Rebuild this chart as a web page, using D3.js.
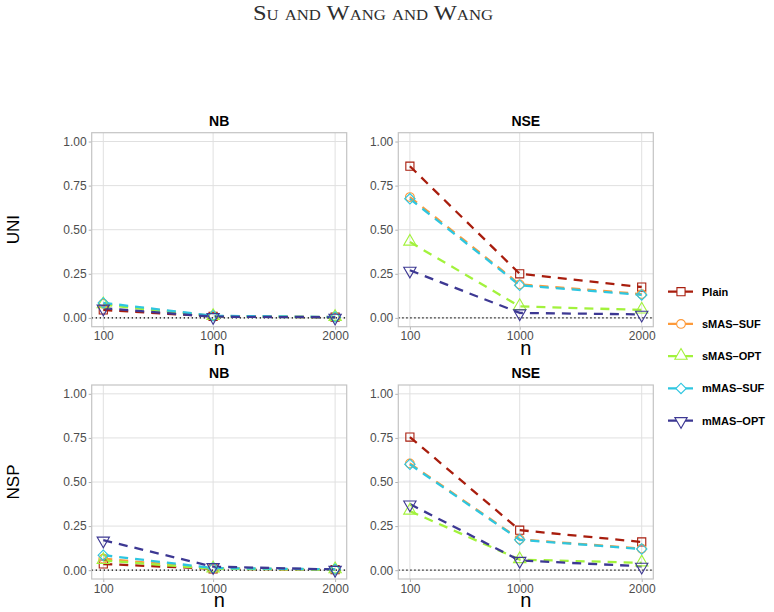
<!DOCTYPE html>
<html>
<head>
<meta charset="utf-8">
<script src="https://cdn.jsdelivr.net/npm/d3@7"></script>
<style>
  body { margin: 0; background: #fff; }
  svg { display: block; }
</style>
</head>
<body>
<div id="chart"></div>
<script>
const nValues = [100, 1000, 2000]
const methods = ['Plain', 'sMAS-SUF', 'sMAS-OPT', 'mMAS-SUF', 'mMAS-OPT']
const methodColors = ['#a81d0d', '#fd9a3a', '#a2f23c', '#2ec6e0', '#3d3893']
const methodShapes = ['square', 'circle', 'triangle', 'diamond', 'triangleDown']
const rowLabels = ['UNI', 'NSP']
const colLabels = ['NB', 'NSE']
const yTicks = [0, 0.25, 0.5, 0.75, 1]

// one row per method, same order as `methods`, values at n = 100, 1000, 2000
const uniNB = [
  [0.045, 0.008, 0.004],
  [0.08, 0.01, 0.005],
  [0.075, 0.008, 0.003],
  [0.085, 0.012, 0.005],
  [0.055, 0.007, 0.003],
]
const uniNSE = [
  [0.86, 0.25, 0.175],
  [0.685, 0.19, 0.135],
  [0.43, 0.065, 0.045],
  [0.675, 0.185, 0.13],
  [0.27, 0.028, 0.02],
]
const nspNB = [
  [0.035, 0.008, 0.003],
  [0.065, 0.01, 0.004],
  [0.055, 0.008, 0.003],
  [0.085, 0.012, 0.005],
  [0.17, 0.02, 0.004],
]
const nspNSE = [
  [0.755, 0.227, 0.16],
  [0.605, 0.175, 0.122],
  [0.335, 0.06, 0.042],
  [0.6, 0.172, 0.12],
  [0.375, 0.055, 0.022],
]

const panelValues = [
  [uniNB, uniNSE],
  [nspNB, nspNSE],
]

const width = 774
const height = 612
const colX = [91.7, 398.3]
const rowY = [132.7, 385]
const panelW = 255
const panelH = 194
const dash = '9 7'

const svg = d3
  .select('#chart')
  .append('svg')
  .attr('width', width)
  .attr('height', height)
  .style('font-family', '"Liberation Sans", Arial, sans-serif')

svg
  .append('rect')
  .attr('width', width)
  .attr('height', height)
  .attr('fill', '#fff')

// running header
svg
  .append('text')
  .attr('x', 373)
  .attr('y', 20)
  .attr('text-anchor', 'middle')
  .attr('textLength', 240)
  .attr('lengthAdjust', 'spacingAndGlyphs')
  .style('font-family', '"Liberation Serif", "DejaVu Serif", serif')
  .style('font-variant', 'small-caps')
  .style('font-size', '22px')
  .attr('fill', '#2e2e2e')
  .text('Su and Wang and Wang')

const xScale = d3
  .scaleLinear()
  .domain([100 - 95, 2000 + 95])
  .range([0, panelW])

const yScale = d3
  .scaleLinear()
  .domain([-0.05, 1.05])
  .range([panelH, 0])

function symbolPath(shape) {
  if (shape === 'square') return d3.symbol(d3.symbolSquare, 66)()
  if (shape === 'circle') return d3.symbol(d3.symbolCircle, 60)()
  if (shape === 'triangle') return d3.symbol(d3.symbolTriangle, 66)()
  if (shape === 'triangleDown') return d3.symbol(d3.symbolTriangle, 66)()
  return d3.symbol(d3.symbolSquare, 54)()
}

function symbolRotate(shape) {
  if (shape === 'diamond') return 45
  if (shape === 'triangleDown') return 180
  return 0
}

function symbolShift(shape) {
  // d3 triangles are centred on the centroid, nudge them a bit
  if (shape === 'triangle') return -0.5
  if (shape === 'triangleDown') return 0.5
  return 0
}

const line = d3
  .line()
  .x((d, i) => xScale(nValues[i]))
  .y(d => yScale(d))

function styleTicks(a) {
  a.select('.domain').remove()
  a.selectAll('.tick line').attr('stroke', '#b3b3b3')
  a.selectAll('.tick text')
    .attr('fill', '#4d4d4d')
    .style('font-size', '12px')
    .style('font-family', '"Liberation Sans", Arial, sans-serif')
}

function renderPanel({ ctx, values, title }) {
  const g = d3.select(ctx)

  // grid
  g.selectAll('line.grid-y')
    .data(yTicks)
    .join('line')
    .attr('class', 'grid-y')
    .attr('x1', 0)
    .attr('x2', panelW)
    .attr('y1', d => yScale(d))
    .attr('y2', d => yScale(d))
    .attr('stroke', '#e0e0e0')
    .attr('stroke-width', 1)

  g.selectAll('line.grid-x')
    .data(nValues)
    .join('line')
    .attr('class', 'grid-x')
    .attr('x1', d => xScale(d))
    .attr('x2', d => xScale(d))
    .attr('y1', 0)
    .attr('y2', panelH)
    .attr('stroke', '#e0e0e0')
    .attr('stroke-width', 1)

  // axes
  g.append('g')
    .attr('class', 'y-axis')
    .call(
      d3
        .axisLeft(yScale)
        .tickValues(yTicks)
        .tickFormat(d3.format('.2f'))
        .tickSize(3)
        .tickPadding(2),
    )
    .call(styleTicks)

  g.append('g')
    .attr('class', 'x-axis')
    .attr('transform', `translate(0, ${panelH})`)
    .call(
      d3
        .axisBottom(xScale)
        .tickValues(nValues)
        .tickFormat(d3.format('d'))
        .tickSize(3)
        .tickPadding(2),
    )
    .call(styleTicks)

  // zero reference line
  g.append('line')
    .attr('x1', 0)
    .attr('x2', panelW)
    .attr('y1', yScale(0))
    .attr('y2', yScale(0))
    .attr('stroke', '#000')
    .attr('stroke-width', 1.2)
    .attr('stroke-dasharray', '1.3 2.7')

  // series lines
  g.selectAll('path.series')
    .data(values)
    .join('path')
    .attr('class', 'series')
    .attr('d', d => line(d))
    .attr('fill', 'none')
    .attr('stroke', (d, i) => methodColors[i])
    .attr('stroke-width', 2.3)
    .attr('stroke-dasharray', dash)

  // markers
  values.forEach((vals, i) => {
    g.selectAll(`path.pt-${i}`)
      .data(vals)
      .join('path')
      .attr('class', `pt-${i}`)
      .attr('d', symbolPath(methodShapes[i]))
      .attr(
        'transform',
        (d, j) =>
          `translate(${xScale(nValues[j])}, ${
            yScale(d) + symbolShift(methodShapes[i])
          }) rotate(${symbolRotate(methodShapes[i])})`,
      )
      .attr('fill', 'none')
      .attr('stroke', methodColors[i])
      .attr('stroke-width', 1.1)
  })

  // panel border
  g.append('rect')
    .attr('width', panelW)
    .attr('height', panelH)
    .attr('fill', 'none')
    .attr('stroke', '#c4c4c4')
    .attr('stroke-width', 1.2)

  // strip title
  g.append('text')
    .attr('x', panelW / 2)
    .attr('y', -7)
    .attr('text-anchor', 'middle')
    .style('font-weight', 'bold')
    .style('font-size', '14px')
    .attr('fill', '#000')
    .text(title)

  // x-axis title
  g.append('text')
    .attr('x', panelW / 2)
    .attr('y', panelH + 28)
    .attr('text-anchor', 'middle')
    .style('font-size', '20px')
    .attr('fill', '#000')
    .text('n')
}

rowLabels.forEach((rowLabel, r) => {
  colLabels.forEach((colLabel, c) => {
    svg
      .append('g')
      .attr('class', 'panel')
      .attr('transform', `translate(${colX[c]}, ${rowY[r]})`)
      .each(function () {
        renderPanel({
          ctx: this,
          values: panelValues[r][c],
          title: colLabel,
        })
      })
  })

  // row label
  svg
    .append('text')
    .attr('transform', `translate(19, ${rowY[r] + panelH / 2}) rotate(-90)`)
    .attr('text-anchor', 'middle')
    .style('font-size', '17px')
    .attr('fill', '#000')
    .text(rowLabel)
})

// legend
const legendY = d3.scalePoint().domain(methods).range([291.7, 420.7])

const legend = svg
  .append('g')
  .attr('class', 'legend')
  .selectAll('g')
  .data(methods)
  .join('g')
  .attr('transform', d => `translate(668, ${legendY(d)})`)

legend
  .append('line')
  .attr('x1', 0)
  .attr('x2', 26)
  .attr('stroke', (d, i) => methodColors[i])
  .attr('stroke-width', 2.3)
  .attr('stroke-dasharray', dash)

legend
  .append('path')
  .attr('d', (d, i) => symbolPath(methodShapes[i]))
  .attr(
    'transform',
    (d, i) =>
      `translate(13, ${symbolShift(methodShapes[i])}) rotate(${symbolRotate(
        methodShapes[i],
      )})`,
  )
  .attr('fill', '#fff')
  .attr('stroke', (d, i) => methodColors[i])
  .attr('stroke-width', 1.1)

legend
  .append('text')
  .attr('x', 34)
  .attr('dy', '0.35em')
  .style('font-size', '11px')
  .style('font-weight', 'bold')
  .attr('fill', '#000')
  .text(d => d.replace('-', '\u2013'))
</script>
</body>
</html>
